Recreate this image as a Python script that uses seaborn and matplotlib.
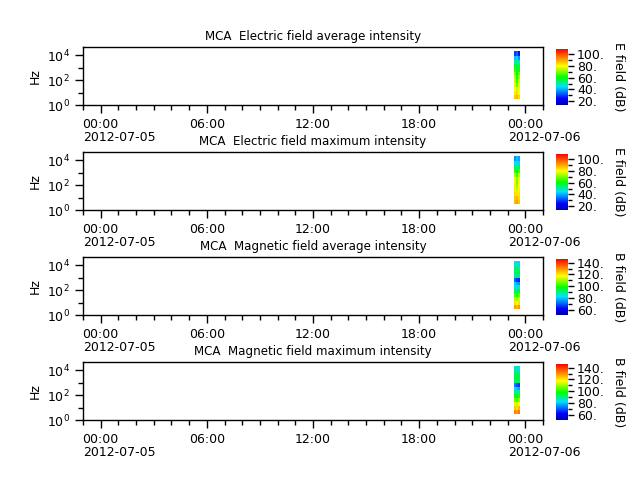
import numpy as np
import pandas as pd
import matplotlib
matplotlib.use("Agg")
import matplotlib.pyplot as plt
import seaborn as sns
from matplotlib.colors import LinearSegmentedColormap
from matplotlib.ticker import FixedLocator, MultipleLocator, FormatStrFormatter, NullFormatter

# ---------------- data ----------------
titles = ["MCA  Electric field average intensity",
          "MCA  Electric field maximum intensity",
          "MCA  Magnetic field average intensity",
          "MCA  Magnetic field maximum intensity"]
cbar_labels = ["E field (dB)", "E field (dB)", "B field (dB)", "B field (dB)"]
cbar_ranges = [(13.2, 108.5), (13.2, 108.5), (51.5, 146.0), (51.5, 146.0)]
cbar_ticks = [[20, 40, 60, 80, 100], [20, 40, 60, 80, 100],
              [60, 80, 100, 120, 140], [60, 80, 100, 120, 140]]

# time bins (hours of 2012-07-05)
time_edges = ["23:23", "23:30", "23:36", "23:43"]
# frequency bin edges (Hz)
freq_edges = [3.4, 7, 14, 30, 60, 120, 250, 500, 1000, 2000, 4500, 9500, 20000]

# spectra: rows = frequency bins (low -> high), columns = time bins
e_avg = [[86, 88, 84], [82, 84, 80], [80, 76, 79], [78, 68, 77], [76, 64, 75],
         [74, 62, 72], [70, 60, 68], [64, 58, 62], [58, 56, 56], [50, 52, 48],
         [42, 44, 38], [30, 34, 26]]
e_max = [[88, 90, 86], [86, 87, 84], [84, 82, 83], [82, 76, 81], [81, 72, 80],
         [80, 70, 79], [80, 72, 78], [74, 66, 74], [64, 60, 66], [56, 54, 58],
         [46, 48, 44], [38, 42, 40]]
b_avg = [[128, 126, 129], [121, 118, 122], [112, 110, 114], [104, 100, 106],
         [95, 92, 97], [86, 84, 88], [82, 78, 76], [72, 68, 66], [88, 92, 90],
         [92, 95, 93], [90, 92, 88], [84, 86, 82]]
b_max = [[131, 129, 132], [124, 121, 125], [115, 113, 117], [107, 103, 109],
         [98, 95, 100], [89, 87, 91], [84, 80, 78], [74, 70, 68], [90, 94, 92],
         [94, 97, 95], [92, 94, 90], [86, 88, 84]]
spectra = [e_avg, e_max, b_avg, b_max]

xtick_hours = [0, 6, 12, 18, 24]
xtick_labels = ["00:00", "06:00", "12:00", "18:00", "00:00"]
date_hours = [0, 24]
date_labels = ["2012-07-05", "2012-07-06"]
x_range = (-1, 25)

# ---------------- style ----------------
sns.set_theme(style="ticks")
plt.rcParams["font.family"] = ["DejaVu Sans"]
plt.rcParams.update({
    "axes.edgecolor": "black", "axes.linewidth": 1.0,
    "xtick.color": "black", "ytick.color": "black",
    "text.color": "black", "axes.labelcolor": "black",
})
FS = 9

cmap = LinearSegmentedColormap.from_list(
    "rainbow_like",
    [(0.0, "#0000a0"), (0.12, "#0000ff"), (0.33, "#00e0ff"), (0.5, "#00ff00"),
     (0.7, "#ffff00"), (0.85, "#ff8000"), (1.0, "#ff0000")])

t_hours = [int(s.split(":")[0]) + int(s.split(":")[1]) / 60 for s in time_edges]
t_centers = [(a + b) / 2 for a, b in zip(t_hours[:-1], t_hours[1:])]
f_centers = [np.sqrt(a * b) for a, b in zip(freq_edges[:-1], freq_edges[1:])]

fig = plt.figure(figsize=(6.4, 4.8), dpi=100)
W, H = 640, 480

for i in range(4):
    top_px = 47 + 105 * i
    bot_px = 105.3 + 105 * i
    ax = fig.add_axes([83 / W, 1 - bot_px / H, (543 - 83) / W, (bot_px - top_px) / H])
    cax = fig.add_axes([556 / W, 1 - bot_px / H, 12 / W, (bot_px - top_px - 2) / H])

    rows = []
    for fi, fc in enumerate(f_centers):
        for ti, tc in enumerate(t_centers):
            rows.append({"hour": tc, "freq": fc, "val": spectra[i][fi][ti]})
    df = pd.DataFrame(rows)

    vmin, vmax = cbar_ranges[i]
    sns.histplot(data=df, x="hour", y="freq", weights="val",
                 bins=[t_hours, list(np.log10(freq_edges))],
                 log_scale=(False, True), cmap=cmap, vmin=vmin, vmax=vmax,
                 cbar=True, cbar_ax=cax, ax=ax)

    ax.set_xlim(*x_range)
    ax.set_ylim(1, 10 ** 4.66)
    ax.xaxis.set_major_locator(FixedLocator(xtick_hours))
    ax.set_xticklabels(xtick_labels, fontsize=FS)
    ax.xaxis.set_minor_locator(MultipleLocator(1))
    ax.xaxis.set_minor_formatter(NullFormatter())
    ax.yaxis.set_major_locator(FixedLocator([1, 100, 10000]))
    ax.set_yticklabels([r"$10^0$", r"$10^2$", r"$10^4$"], fontsize=FS)
    ax.yaxis.set_minor_locator(FixedLocator([10, 1000]))
    ax.yaxis.set_minor_formatter(NullFormatter())
    ax.tick_params(which="major", direction="out", length=5.8, width=1, pad=3.5)
    ax.tick_params(which="minor", direction="out", length=3.6, width=1)
    ax.tick_params(top=False, right=False)
    for sp in ax.spines.values():
        sp.set_visible(True)
        sp.set_color("black")
    ax.set_xlabel("")
    ax.set_ylabel("Hz", fontsize=FS)
    ax.set_title(titles[i], fontsize=8.6, pad=5)

    for h, lab in zip(date_hours, date_labels):
        ax.annotate(lab, xy=(h, 0), xycoords=("data", "axes fraction"),
                    xytext=(-12.3, -18.6), textcoords="offset points",
                    ha="left", va="top", fontsize=FS, annotation_clip=False)

    cax.yaxis.set_major_locator(FixedLocator(cbar_ticks[i]))
    cax.yaxis.set_major_formatter(FormatStrFormatter("%d."))
    cax.yaxis.set_minor_locator(MultipleLocator(10))
    cax.tick_params(which="major", direction="out", length=4.5, width=1,
                    labelsize=FS, pad=2)
    cax.tick_params(which="minor", direction="out", length=3, width=1)
    cax.set_ylim(vmin, vmax)
    for sp in cax.spines.values():
        sp.set_visible(False)
    cax.set_ylabel(cbar_labels[i], rotation=270, va="bottom", fontsize=FS, labelpad=5)

fig.savefig("out.png", dpi=100)
